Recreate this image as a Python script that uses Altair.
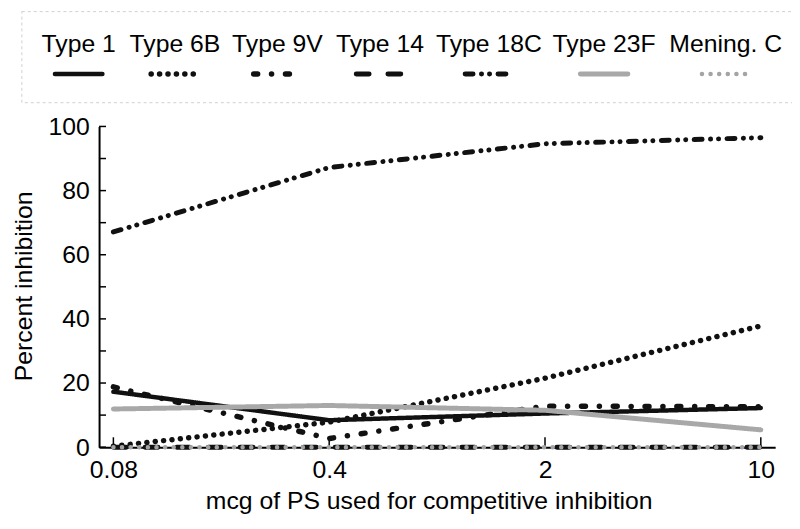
import altair as alt
import pandas as pd

# ---- data ----
doses = [0.08, 0.4, 2, 10]
series = ["Type 1", "Type 6B", "Type 9V", "Type 14", "Type 18C", "Type 23F", "Mening. C"]
type_1 = [17.3, 8.4, 10.5, 12.2]
type_6b = [0.3, 7.8, 21.5, 37.8]
type_9v = [18.8, 2.7, 12.8, 12.6]
type_14 = [0, 0, 0, 0]
type_18c = [67.1, 87.2, 94.6, 96.5]
type_23f = [11.9, 13.0, 11.5, 5.4]
mening_c = [0, 0, 0, 0]
y_ticks = [0, 20, 40, 60, 80, 100]
y_minor = list(range(0, 101, 10))

# ---- styles ----
FONT = "Liberation Sans"
FS = 25
colors = ["#111111", "#111111", "#111111", "#111111", "#111111", "#a8a8a8", "#a4a4a4"]
dashes = [[1, 0], [0.1, 8.4], [4, 14, 0.1, 14], [13, 19], [8, 8.5, 0.1, 8, 0.1, 8.5], [1, 0], [0.1, 8.6]]
widths = [4.5, 5.5, 5.5, 5, 5, 5, 4.5]
W, H = 683, 324

values = [type_1, type_6b, type_9v, type_14, type_18c, type_23f, mening_c]
rows = []
for s, vals in zip(series, values):
    for d, v in zip(doses, vals):
        rows.append({"series": s, "dose": d, "value": v, "order": series.index(s)})
df = pd.DataFrame(rows)

color_enc = alt.Color("series:N", scale=alt.Scale(domain=series, range=colors), legend=None)
dash_enc = alt.StrokeDash("series:N", scale=alt.Scale(domain=series, range=dashes), legend=None)
width_enc = alt.StrokeWidth(
    "series:N", scale=alt.Scale(type="ordinal", domain=series, range=widths), legend=None
)

x_enc = alt.X(
    "dose:Q",
    scale=alt.Scale(type="log", domain=[0.0719, 11.13], nice=False),
    axis=alt.Axis(
        values=doses, format="~g", ticks=False, grid=False, domainWidth=2, domainColor="#000",
        labelFontSize=FS, labelFont=FONT, labelColor="#000", labelPadding=11,
        labelFlush=False, labelOverlap=False, labelBound=False,
        title="mcg of PS used for competitive inhibition", titleFont=FONT, titleFontSize=FS,
        titleFontWeight="normal", titleColor="#000", titleX=333, titleY=62,
        titleBaseline="alphabetic",
    ),
)
y_enc = alt.Y(
    "value:Q",
    scale=alt.Scale(domain=[0, 100], nice=False),
    axis=alt.Axis(
        values=y_ticks, ticks=False, grid=False, domainWidth=2, domainColor="#000",
        labelFontSize=FS, labelFont=FONT, labelColor="#000", labelPadding=10,
        title="Percent inhibition", titleFont=FONT, titleFontSize=FS, titleFontWeight="normal",
        titleColor="#000", titleX=-63, titleY=161,
    ),
)

lines = alt.Chart(df).mark_line(strokeCap="round", strokeJoin="round").encode(
    x=x_enc, y=y_enc, color=color_enc, strokeDash=dash_enc, strokeWidth=width_enc,
    order="order:Q",
)

ytick_df = pd.DataFrame({"value": y_minor})
yticks = alt.Chart(ytick_df).mark_rule(color="#000", strokeWidth=1.5).encode(
    y="value:Q", x=alt.value(0), x2=alt.value(7)
)
xtick_df = pd.DataFrame({"dose": doses})
xticks = alt.Chart(xtick_df).mark_rule(color="#000", strokeWidth=1.5).encode(
    x="dose:Q", y=alt.value(H), y2=alt.value(H - 10)
)

main = alt.layer(yticks, xticks, lines)

# ---- legend (labels above symbols), packed by label length ----
char_w, gap, start = 12.8, 14, -59
leg_rows, sym_rows = [], []
left = start
for s in series:
    w = len(s) * char_w
    c = left + w / 2
    leg_rows.append({"series": s, "lx": c})
    sym_rows.append({"series": s, "lx": c - 24, "k": 0})
    sym_rows.append({"series": s, "lx": c + 24, "k": 1})
    left += w + gap
leg_df = pd.DataFrame(leg_rows)
sym_df = pd.DataFrame(sym_rows)
lx_scale = alt.Scale(domain=[0, W], range=[0, W], nice=False, zero=False)

box = alt.Chart(pd.DataFrame({"a": [0]})).mark_rect(
    fill="#ffffff", fillOpacity=0, stroke="#cfcfcf", strokeWidth=1, strokeDash=[3, 3]
).encode(x=alt.value(-78), x2=alt.value(710), y=alt.value(-116), y2=alt.value(-24))

leg_text = alt.Chart(leg_df).mark_text(
    font=FONT, fontSize=FS, color="#000", baseline="alphabetic", align="center"
).encode(
    x=alt.X("lx:Q", scale=lx_scale, axis=None), y=alt.value(-75), text="series:N"
)
leg_sym = alt.Chart(sym_df).mark_line(strokeCap="round").encode(
    x=alt.X("lx:Q", scale=lx_scale, axis=None), y=alt.value(-53),
    color=color_enc, strokeDash=dash_enc, strokeWidth=width_enc, detail="series:N",
    order="k:Q",
)
legend = alt.layer(box, leg_text, leg_sym)

chart = alt.layer(main, legend).resolve_scale(x="independent").properties(
    width=W, height=H,
    autosize=alt.AutoSizeParams(type="none"),
    padding={"left": 92, "top": 117, "right": 17, "bottom": 80},
    background="#ffffff",
).configure_view(stroke=None)

chart.save("out.html", embed_options={"renderer": "svg", "actions": False})
